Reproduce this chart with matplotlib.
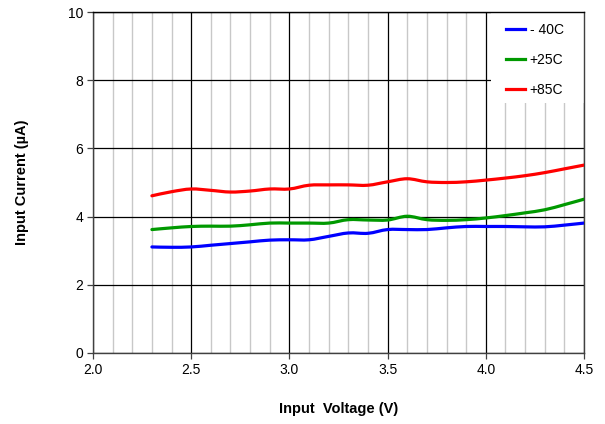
import numpy as np
import matplotlib
matplotlib.use("Agg")
import matplotlib.pyplot as plt
from matplotlib.ticker import MultipleLocator
from matplotlib.patches import Rectangle, PathPatch
from matplotlib.path import Path
from matplotlib.lines import Line2D

plt.rcParams['font.family'] = ['Liberation Sans', 'DejaVu Sans']

# input voltage (V)
voltage = [2.3, 2.4, 2.5, 2.6, 2.7, 2.8, 2.9, 3.0, 3.1, 3.2, 3.3, 3.4,
           3.5, 3.6, 3.7, 3.8, 3.9, 4.0, 4.1, 4.2, 4.3, 4.4, 4.5]

# input current (uA) per temperature
cur_m40 = [3.11, 3.10, 3.11, 3.16, 3.21, 3.26, 3.31, 3.32, 3.32, 3.42, 3.52, 3.51,
           3.62, 3.62, 3.62, 3.67, 3.71, 3.71, 3.71, 3.70, 3.70, 3.75, 3.81]
cur_25 = [3.62, 3.67, 3.71, 3.72, 3.72, 3.76, 3.81, 3.81, 3.81, 3.81, 3.91, 3.90,
          3.90, 4.01, 3.91, 3.89, 3.91, 3.96, 4.03, 4.11, 4.20, 4.35, 4.51]
cur_85 = [4.61, 4.73, 4.81, 4.77, 4.72, 4.75, 4.81, 4.81, 4.92, 4.93, 4.93, 4.92,
          5.02, 5.11, 5.02, 5.00, 5.02, 5.07, 5.13, 5.20, 5.29, 5.40, 5.51]

series = [("- 40C", cur_m40, "#0000ff"),
          ("+25C", cur_25, "#009900"),
          ("+85C", cur_85, "#ff0000")]


def smooth_path(xs, ys):
    # Excel-style smoothed line: cubic bezier through every point
    p = np.column_stack([xs, ys])
    ext = np.vstack([p[0], p, p[-1]])
    verts = [p[0]]
    codes = [Path.MOVETO]
    for i in range(len(p) - 1):
        c1 = ext[i + 1] + (ext[i + 2] - ext[i]) / 6
        c2 = ext[i + 2] - (ext[i + 3] - ext[i + 1]) / 6
        verts += [c1, c2, p[i + 1]]
        codes += [Path.CURVE4] * 3
    return Path(verts, codes)


fig = plt.figure(figsize=(6.05, 4.24), dpi=100)
ax = fig.add_axes([93 / 605, 1 - 353 / 424, 491 / 605, 341 / 424])

handles = []
for label, vals, col in series:
    ax.add_patch(PathPatch(smooth_path(voltage, vals), facecolor='none',
                           edgecolor=col, lw=2.3, capstyle='round',
                           joinstyle='round', zorder=3))
    handles.append(Line2D([], [], color=col, lw=2.3, label=label))

ax.set_xlim(2.0, 4.5)
ax.set_ylim(0, 10)
ax.xaxis.set_major_locator(MultipleLocator(0.5))
ax.xaxis.set_minor_locator(MultipleLocator(0.1))
ax.yaxis.set_major_locator(MultipleLocator(2))
ax.xaxis.set_major_formatter(matplotlib.ticker.FormatStrFormatter('%.1f'))

ax.grid(which='minor', axis='x', color='#c8c8c8', lw=1.0)
ax.grid(which='major', axis='x', color='#000000', lw=0.9)
ax.grid(which='major', axis='y', color='#000000', lw=0.9)
ax.set_axisbelow(True)

for s in ax.spines.values():
    s.set_color('#404040')
    s.set_linewidth(1.0)
ax.spines['top'].set_color('#000000')

ax.tick_params(axis='both', which='major', labelsize=10, length=4, width=0.9,
               color='#404040', pad=3)
ax.tick_params(axis='x', which='minor', length=0)

ax.set_xlabel('Input  Voltage (V)', fontsize=10.5, fontweight='bold', labelpad=18)
ax.set_ylabel('Input Current (\u00b5A)', fontsize=10.5, fontweight='bold', labelpad=28)

# white box behind the legend (covers the grid like the original)
ax.add_patch(Rectangle((398 / 491, 250 / 341), 93 / 491, 91 / 341,
                       transform=ax.transAxes, facecolor='white',
                       edgecolor='none', zorder=2))

leg = ax.legend(handles=handles, loc='upper left',
                bbox_to_anchor=(413 / 491, 330 / 341),
                fontsize=10, frameon=False, borderaxespad=0, borderpad=0,
                handlelength=1.35, handletextpad=0.35, labelspacing=1.15)
leg.set_zorder(5)

fig.savefig('out.png', dpi=100)
